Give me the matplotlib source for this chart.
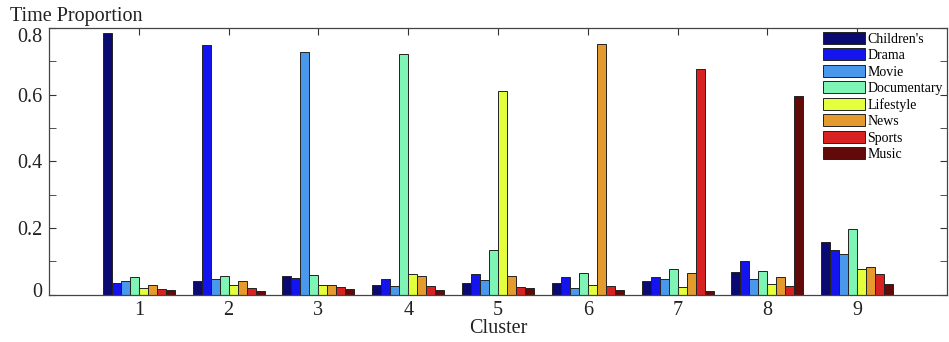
import matplotlib
matplotlib.use("Agg")
import matplotlib.pyplot as plt
import matplotlib.transforms as mtransforms
import numpy as np
from matplotlib.ticker import MultipleLocator, FixedLocator

clusters = [1, 2, 3, 4, 5, 6, 7, 8, 9]
genres = ["Children's", "Drama", "Movie", "Documentary", "Lifestyle", "News", "Sports", "Music"]
childrens   = [0.785, 0.041, 0.057, 0.030, 0.035, 0.035, 0.041, 0.068, 0.158]
drama       = [0.035, 0.748, 0.051, 0.048, 0.063, 0.052, 0.052, 0.100, 0.135]
movie       = [0.041, 0.046, 0.727, 0.027, 0.043, 0.019, 0.046, 0.046, 0.123]
documentary = [0.052, 0.055, 0.060, 0.722, 0.133, 0.066, 0.078, 0.071, 0.198]
lifestyle   = [0.020, 0.030, 0.030, 0.063, 0.610, 0.030, 0.022, 0.032, 0.078]
news        = [0.028, 0.041, 0.030, 0.057, 0.057, 0.752, 0.065, 0.052, 0.082]
sports      = [0.016, 0.019, 0.022, 0.027, 0.023, 0.025, 0.676, 0.027, 0.062]
music       = [0.013, 0.010, 0.016, 0.013, 0.019, 0.013, 0.010, 0.595, 0.032]
series = [childrens, drama, movie, documentary, lifestyle, news, sports, music]
colors = ["#0a0a72", "#1414ee", "#4a98ec", "#7ef5b4", "#e4ff3c", "#e49a2c", "#d82222", "#620a0a"]

plt.rcParams['font.family'] = ['Liberation Serif', 'DejaVu Serif']
fig = plt.figure(figsize=(9.49, 3.42), dpi=100)
ax = fig.add_axes([49/949, 1-294.5/342, 898/949, 266.5/342])

x = np.array(clusters, dtype=float)
w = 0.1
for i, (vals, c, g) in enumerate(zip(series, colors, genres)):
    ax.bar(x - 0.35 + i*w, vals, width=w, color=c, edgecolor="#222222", linewidth=0.7, label=g)

ax.set_xlim(0, 10)
ax.set_ylim(0, 0.8)
ax.set_xticks(clusters)
ax.set_xticklabels([str(c) for c in clusters])
ax.yaxis.set_major_locator(FixedLocator([0, 0.2, 0.4, 0.6, 0.8]))
ax.set_yticklabels(["0", "0.2", "0.4", "0.6", "0.8"])
ax.yaxis.set_minor_locator(MultipleLocator(0.1))
ax.tick_params(axis='both', which='both', direction='in', top=True, right=True, labelsize=14.5,
               colors='#333333', labelcolor='#222222')
ax.tick_params(axis='both', which='major', length=5)
ax.tick_params(axis='y', which='minor', length=5)
ax.tick_params(axis='x', pad=5)
ax.tick_params(axis='y', pad=5)
for s in ax.spines.values():
    s.set_color('#444444')
    s.set_linewidth(0.9)

# MATLAB-like inward nudge of the end labels
labels = ax.get_yticklabels()
labels[0].set_transform(labels[0].get_transform() + mtransforms.ScaledTranslation(0, 3/72, fig.dpi_scale_trans))
labels[-1].set_transform(labels[-1].get_transform() + mtransforms.ScaledTranslation(0, -5/72, fig.dpi_scale_trans))

ax.set_xlabel("Cluster", fontsize=14.5, labelpad=-1, color='#222222')
fig.text(10/949, 1-21/342, "Time Proportion", fontsize=14.5, va='baseline', ha='left', color='#222222')

leg = ax.legend(loc='upper left', bbox_to_anchor=(0.862, 0.985), frameon=False, fontsize=10,
                handlelength=3.0, handleheight=0.93, labelspacing=0.2, handletextpad=0.2,
                borderpad=0, borderaxespad=0)

fig.savefig("out.png", dpi=100)
